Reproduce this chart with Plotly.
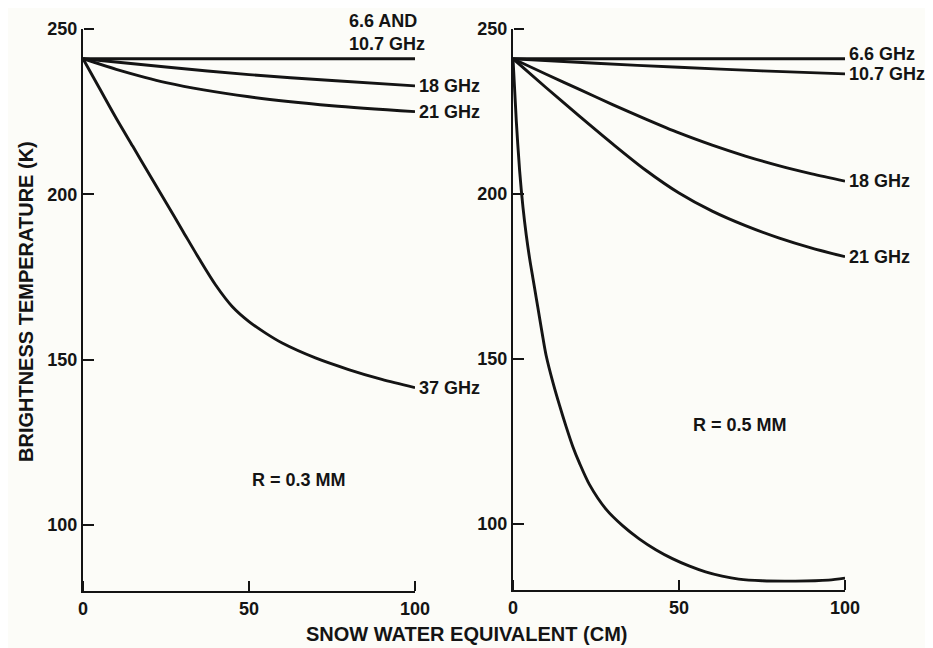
import plotly.graph_objects as go

# ---------------- data ----------------
# Left panel, R = 0.3 mm
swe_l_flat = [0, 100]
tb_l_flat = [241, 241]                      # 6.6 and 10.7 GHz
swe_l_18 = [0, 25, 50, 75, 100]
tb_l_18 = [241, 238.5, 236.2, 234.4, 232.8]
swe_l_21 = [0, 10, 25, 50, 75, 100]
tb_l_21 = [241, 237.8, 233.8, 229.5, 226.8, 225]
swe_l_37 = [0, 5, 10, 15, 20, 25, 30, 35, 40, 45, 50, 55, 60, 70, 80, 90, 100]
tb_l_37 = [241, 232, 223, 214.5, 206, 197.5, 189, 180.5, 172.5, 166, 161.5, 158, 155, 150.5, 147, 144, 141.5]

# Right panel, R = 0.5 mm
swe_r_66 = [0, 100]
tb_r_66 = [241, 241]
swe_r_107 = [0, 25, 50, 75, 100]
tb_r_107 = [241, 239.6, 238.4, 237.3, 236.4]
swe_r_18 = [0, 10, 20, 30, 40, 50, 60, 70, 80, 90, 100]
tb_r_18 = [241, 236.3, 231.7, 227.1, 222.7, 218.5, 214.8, 211.5, 208.6, 206.1, 203.9]
swe_r_21 = [0, 10, 20, 30, 40, 50, 60, 70, 80, 90, 100]
tb_r_21 = [241, 232.2, 223.6, 215.2, 207.2, 200.3, 194.8, 190.4, 186.7, 183.6, 181]
swe_r_37 = [0, 1, 2, 3, 4, 5, 6, 7, 8, 9, 10, 12, 14, 16, 18, 20, 23, 28, 33, 38, 43, 48, 53, 58, 63, 68, 75, 85, 95, 100]
tb_r_37 = [241, 222, 207, 196, 187.5, 180.5, 174.5, 168.5, 162.5, 156.5, 151, 143, 136, 129.5, 123.5, 118.5, 112,
           104.5, 99.5, 95.5, 92.2, 89.5, 87.3, 85.5, 84.2, 83.3, 82.8, 82.7, 83, 83.6]

x_ticks = [0, 50, 100]
y_ticks = [100, 150, 200, 250]

left_labels = [("18 GHz", 232.8, 0), ("21 GHz", 225, 0), ("37 GHz", 141.5, 0)]
right_labels = [("6.6 GHz", 241, 5), ("10.7 GHz", 236.4, 0), ("18 GHz", 203.9, 0), ("21 GHz", 181, 0)]

# ---------------- figure ----------------
# the page body has an 8px margin: figure starts at (8, 8) and is clipped at the right
OFF = 8
W, H = 933 - 2 * OFF, 648 - OFF
INK = "#141414"
BG = "#fcfcf8"
FONT = "Liberation Sans"

fig = go.Figure()
line = dict(color=INK, width=2.9, shape="spline", smoothing=0.8)

for x, y in [(swe_l_flat, tb_l_flat), (swe_l_18, tb_l_18), (swe_l_21, tb_l_21), (swe_l_37, tb_l_37)]:
    fig.add_trace(go.Scatter(x=x, y=y, mode="lines", line=line, xaxis="x", yaxis="y",
                             showlegend=False, hoverinfo="skip"))
for x, y in [(swe_r_66, tb_r_66), (swe_r_107, tb_r_107), (swe_r_18, tb_r_18), (swe_r_21, tb_r_21), (swe_r_37, tb_r_37)]:
    fig.add_trace(go.Scatter(x=x, y=y, mode="lines", line=line, xaxis="x2", yaxis="y2",
                             showlegend=False, hoverinfo="skip"))

# empty traces so the tick-only overlay axes are created
for xa, ya in [("x3", "y"), ("x", "y3"), ("x4", "y2"), ("x2", "y4")]:
    fig.add_trace(go.Scatter(x=[None], y=[None], mode="lines", xaxis=xa, yaxis=ya,
                             showlegend=False, hoverinfo="skip"))


def px_x(p):
    return (p - OFF) / W


def px_y(p):
    return 1 - (p - OFF) / H


tick_font = dict(family=FONT, size=18, color=INK, weight="bold")
base = dict(showgrid=False, zeroline=False, automargin=False, fixedrange=True)
common_x = dict(range=[0, 100], tickmode="array", tickvals=x_ticks, ticks="inside", ticklen=10, tickwidth=2,
                tickcolor=INK, showline=True, linewidth=2, linecolor=INK, tickfont=tick_font, **base)
common_y = dict(range=[80, 250], tickmode="array", tickvals=y_ticks, ticks="inside", ticklen=10, tickwidth=2,
                tickcolor=INK, showline=True, linewidth=2, linecolor=INK, tickfont=tick_font, **base)
# overlay axes that only draw tick marks pointing into the plot
tick_x = dict(range=[0, 100], tickmode="array", tickvals=x_ticks, ticks="outside", ticklen=10, tickwidth=2,
              tickcolor=INK, showline=False, showticklabels=False, side="top", anchor="free", **base)
tick_y = dict(range=[80, 250], tickmode="array", tickvals=y_ticks, ticks="outside", ticklen=10, tickwidth=2,
              tickcolor=INK, showline=False, showticklabels=False, side="right", anchor="free", **base)

xl, xr = [px_x(83), px_x(415)], [px_x(513), px_x(845)]
yl, yr = [px_y(591), px_y(29)], [px_y(590), px_y(29)]

fig.update_layout(
    template="simple_white",
    width=W, height=H,
    margin=dict(l=0, r=0, t=0, b=0, pad=0, autoexpand=False),
    paper_bgcolor=BG, plot_bgcolor=BG,
    xaxis=dict(domain=xl, anchor="y", **common_x),
    yaxis=dict(domain=yl, anchor="x", **common_y),
    xaxis2=dict(domain=xr, anchor="y2", **common_x),
    yaxis2=dict(domain=yr, anchor="x2", **common_y),
    xaxis3=dict(domain=xl, overlaying="x", position=yl[0], **tick_x),
    yaxis3=dict(domain=yl, overlaying="y", position=xl[0], **tick_y),
    xaxis4=dict(domain=xr, overlaying="x2", position=yr[0], **tick_x),
    yaxis4=dict(domain=yr, overlaying="y2", position=xr[0], **tick_y),
)

ann_font = dict(family=FONT, size=18, color=INK, weight="bold")
anns = []
for txt, yv, ys in left_labels:
    anns.append(dict(x=100, y=yv, xref="x", yref="y", text=txt, showarrow=False, xanchor="left",
                     yanchor="middle", xshift=2, yshift=ys, font=ann_font))
for txt, yv, ys in right_labels:
    anns.append(dict(x=100, y=yv, xref="x2", yref="y2", text=txt, showarrow=False, xanchor="left",
                     yanchor="middle", xshift=2, yshift=ys, font=ann_font))
anns.append(dict(x=100, y=241, xref="x", yref="y", text="6.6 AND<br>10.7 GHz", showarrow=False,
                 xanchor="right", yanchor="bottom", xshift=12, yshift=3, align="left", font=ann_font))
anns.append(dict(x=65, y=113.7, xref="x", yref="y", text="R = 0.3 MM", showarrow=False,
                 xanchor="center", yanchor="middle", font=ann_font))
anns.append(dict(x=68.4, y=130, xref="x2", yref="y2", text="R = 0.5 MM", showarrow=False,
                 xanchor="center", yanchor="middle", font=ann_font))
anns.append(dict(x=px_x(466), y=px_y(634), xref="paper", yref="paper", text="SNOW WATER EQUIVALENT (CM)",
                 xanchor="center", yanchor="middle", showarrow=False,
                 font=dict(family=FONT, size=20, color=INK, weight="bold")))
anns.append(dict(x=px_x(26), y=px_y(302), xref="paper", yref="paper", text="BRIGHTNESS TEMPERATURE (K)",
                 xanchor="center", yanchor="middle", textangle=-90, showarrow=False,
                 font=dict(family=FONT, size=20, color=INK, weight="bold")))
fig.update_layout(annotations=anns)

fig.write_html("out.html")
